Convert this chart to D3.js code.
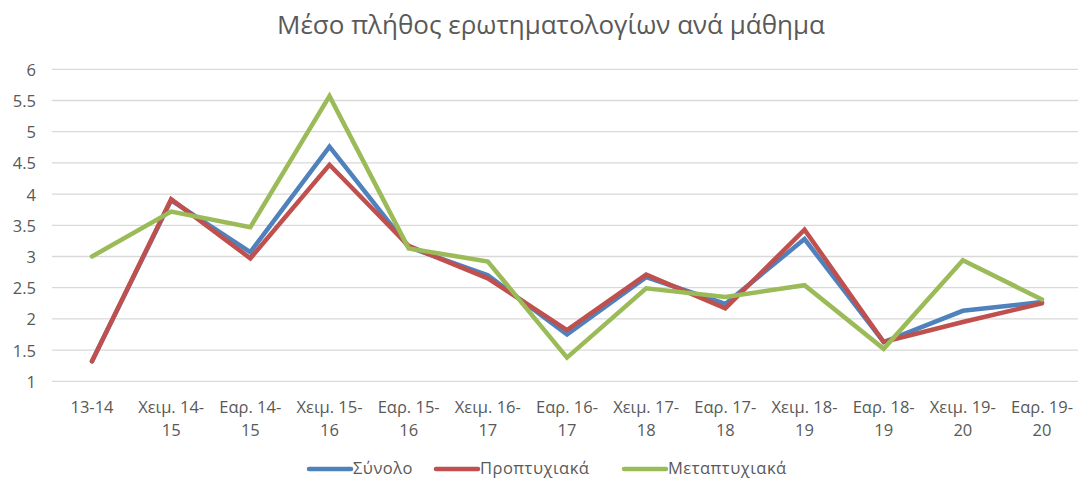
<!DOCTYPE html>
<html>
<head>
<meta charset="utf-8">
<script src="https://cdn.jsdelivr.net/npm/d3@7"></script>
<style>
  body { margin: 0; background: #fff; }
  svg { display: block; font-family: "Open Sans", "Noto Sans", sans-serif; }
</style>
</head>
<body>
<div id="chart"></div>
<script>
const categories = ["13-14", "Χειμ. 14-15", "Εαρ. 14-15", "Χειμ. 15-16", "Εαρ. 15-16", "Χειμ. 16-17",
  "Εαρ. 16-17", "Χειμ. 17-18", "Εαρ. 17-18", "Χειμ. 18-19", "Εαρ. 18-19", "Χειμ. 19-20", "Εαρ. 19-20"];
const total = [1.32, 3.9, 3.07, 4.76, 3.15, 2.70, 1.75, 2.67, 2.24, 3.28, 1.63, 2.13, 2.27];
const undergrad = [1.32, 3.92, 2.97, 4.47, 3.17, 2.65, 1.82, 2.71, 2.17, 3.43, 1.63, 1.95, 2.25];
const postgrad = [3.0, 3.72, 3.47, 5.57, 3.13, 2.92, 1.38, 2.49, 2.35, 2.54, 1.52, 2.94, 2.31];
const seriesNames = ["Σύνολο", "Προπτυχιακά", "Μεταπτυχιακά"];
const yTicks = [1, 1.5, 2, 2.5, 3, 3.5, 4, 4.5, 5, 5.5, 6];

const width = 1078, height = 479;
const colors = ["#4f81bd", "#c0504d", "#9bbb59"];
const series = [total, undergrad, postgrad];

const svg = d3.select("#chart").append("svg")
  .attr("width", width).attr("height", height);

const x = d3.scaleBand().domain(categories).range([52.4, 1081.6]);
const y = d3.scaleLinear().domain([1, 6]).range([381.3, 69.3]);

svg.append("text")
  .attr("x", 551).attr("y", 34)
  .attr("text-anchor", "middle")
  .attr("fill", "#595959")
  .style("font-size", "26px")
  .text("Μέσο πλήθος ερωτηματολογίων ανά μάθημα");

// gridlines
svg.append("g").selectAll("line").data(yTicks).enter().append("line")
  .attr("x1", 52).attr("x2", width)
  .attr("y1", d => y(d)).attr("y2", d => y(d))
  .attr("stroke", "#d9d9d9").attr("stroke-width", 1.3);

const yAxis = svg.append("g")
  .attr("transform", "translate(36,0)")
  .call(d3.axisLeft(y).tickValues(yTicks).tickSize(0).tickPadding(0).tickFormat(d3.format("")));
yAxis.select(".domain").remove();
yAxis.selectAll("text").attr("fill", "#595959").style("font-size", "16.5px")
  .style("font-family", "'Open Sans', sans-serif").attr("dy", "0.36em");

// x labels
const xl = svg.append("g").selectAll("text").data(categories).enter().append("text")
  .attr("text-anchor", "middle")
  .attr("fill", "#595959")
  .style("font-size", "16.5px")
  .attr("x", d => x(d) + x.bandwidth() / 2)
  .attr("y", 413);
xl.each(function(d) {
  const m = d.match(/^(.*-)(\d+)$/);
  const t = d3.select(this);
  if (d.indexOf(" ") < 0) { t.text(d); return; }
  t.append("tspan").attr("x", x(d) + x.bandwidth() / 2).text(m[1]);
  t.append("tspan").attr("x", x(d) + x.bandwidth() / 2).attr("dy", 23).text(m[2]);
});

const line = d3.line()
  .x((d, i) => x(categories[i]) + x.bandwidth() / 2)
  .y(d => y(d));

series.forEach((s, k) => {
  svg.append("path").datum(s)
    .attr("d", line)
    .attr("fill", "none")
    .attr("stroke", colors[k])
    .attr("stroke-width", 4.5)
    .attr("stroke-linejoin", "miter")
    .attr("stroke-linecap", "round");
});

// legend
const legendX = [309, 436, 624];
seriesNames.forEach((name, k) => {
  const g = svg.append("g").attr("transform", `translate(${legendX[k]},469)`);
  g.append("line").attr("x1", 0).attr("x2", 42).attr("y1", 0).attr("y2", 0)
    .attr("stroke", colors[k]).attr("stroke-width", 4.5).attr("stroke-linecap", "round");
  g.append("text").attr("x", 44).attr("y", 5)
    .attr("fill", "#595959").style("font-size", "16.5px").style("letter-spacing", "0.5px").text(name);
});
</script>
</body>
</html>
